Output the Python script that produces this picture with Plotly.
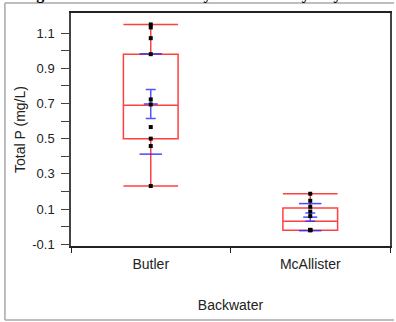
import plotly.graph_objects as go

categories = ["Butler", "McAllister"]

# box statistics (mg/L)
q1 = [0.50, -0.02]
median = [0.69, 0.031]
q3 = [0.98, 0.106]
lowerfence = [0.231, -0.02]
upperfence = [1.149, 0.187]

# individual observations
butler_pts = [1.149, 1.132, 1.071, 0.98, 0.723, 0.694, 0.566, 0.50, 0.458, 0.231]
mcallister_pts = [0.187, 0.147, 0.113, 0.086, 0.06, -0.02, -0.02, -0.02, -0.018]

# mean, 95% CI half-width, standard deviation
means = [0.697, 0.054]
ci_half = [0.082, 0.023]
stds = [0.285, 0.077]

title_text = "Figure 4. Total Nutrients by Backwater by Day"

fig = go.Figure()

fig.add_trace(go.Box(
    x=categories, q1=q1, median=median, q3=q3,
    lowerfence=lowerfence, upperfence=upperfence,
    boxpoints=False, width=0.343, whiskerwidth=1,
    fillcolor="rgba(0,0,0,0)",
    line=dict(color="rgba(255,0,0,0.75)", width=1.5),
    showlegend=False, hoverinfo="skip",
))

# std dev lines
fig.add_trace(go.Scatter(
    x=categories + categories,
    y=[m + s for m, s in zip(means, stds)] + [m - s for m, s in zip(means, stds)],
    mode="markers",
    marker=dict(symbol="line-ew", size=16, line=dict(color="rgba(40,40,255,0.85)", width=1.5)),
    showlegend=False, hoverinfo="skip",
))

# mean with CI
fig.add_trace(go.Scatter(
    x=categories, y=means, mode="markers",
    marker=dict(symbol="line-ew", size=10, line=dict(color="rgba(40,40,255,0.85)", width=1.5)),
    error_y=dict(type="data", array=ci_half, visible=True, color="rgba(40,40,255,0.8)",
                 thickness=1.5, width=5),
    showlegend=False, hoverinfo="skip",
))

# data points
fig.add_trace(go.Scatter(
    x=[categories[0]] * len(butler_pts) + [categories[1]] * len(mcallister_pts),
    y=butler_pts + mcallister_pts, mode="markers",
    marker=dict(symbol="square", size=4, color="black"),
    showlegend=False, hoverinfo="skip",
))

W, H = 396, 322
L, R, T, B = 71, 4, 13, 76
pw, ph = W - L - R, H - T - B

def px_x(x):
    return (x - L) / pw

def px_y(y):
    return (H - B - y) / ph

border = dict(color="#a8a8a8", width=1.5)
fig.add_shape(type="line", xref="paper", yref="paper",
              x0=px_x(4.5), x1=px_x(396), y0=px_y(3), y1=px_y(3), line=border, layer="below")
fig.add_shape(type="line", xref="paper", yref="paper",
              x0=px_x(4.5), x1=px_x(396), y0=px_y(320), y1=px_y(320), line=border, layer="below")
fig.add_shape(type="line", xref="paper", yref="paper",
              x0=px_x(4.5), x1=px_x(4.5), y0=px_y(3), y1=px_y(320), line=border, layer="below")

fig.add_annotation(text="<b>" + title_text + "</b>", xref="paper", yref="paper",
                   x=px_x(20), y=px_y(5.5), xanchor="left", yanchor="bottom",
                   showarrow=False, font=dict(family="Liberation Serif", size=16, color="black"))

fig.update_layout(
    width=W, height=H,
    margin=dict(l=L, r=R, t=T, b=B),
    paper_bgcolor="white", plot_bgcolor="white",
    font=dict(family="Liberation Sans, Arial", size=13, color="#222"),
)
fig.update_yaxes(
    range=[-0.11, 1.214], tickvals=[-0.1, 0.1, 0.3, 0.5, 0.7, 0.9, 1.1],
    ticktext=["-0.1", "0.1", "0.3", "0.5", "0.7", "0.9", "1.1"],
    ticks="outside", ticklen=8, tickcolor="#444", tickwidth=1,
    minor=dict(tickvals=[0.0, 0.2, 0.4, 0.6, 0.8, 1.0], ticks="outside", ticklen=8, tickcolor="#444"),
    showline=True, linecolor="#444", linewidth=1.5, mirror=True,
    showgrid=False, zeroline=False, ticklabelstandoff=4,
    tickfont=dict(size=13),
    title=dict(text="Total P (mg/L)", standoff=3, font=dict(size=14)),
)
fig.update_xaxes(
    range=[-0.5, 1.5],
    tickson="boundaries", ticks="outside", ticklen=5, tickcolor="#222",
    showline=True, linecolor="#222", linewidth=1.5, mirror=True,
    showgrid=False, ticklabelstandoff=4,
    tickfont=dict(size=14),
    title=dict(text="Backwater", standoff=30, font=dict(size=14)),
)

fig.write_html(
    "out.html",
    config={"displayModeBar": False},
    post_script="document.body.style.margin='0';document.body.style.overflow='hidden';",
)
